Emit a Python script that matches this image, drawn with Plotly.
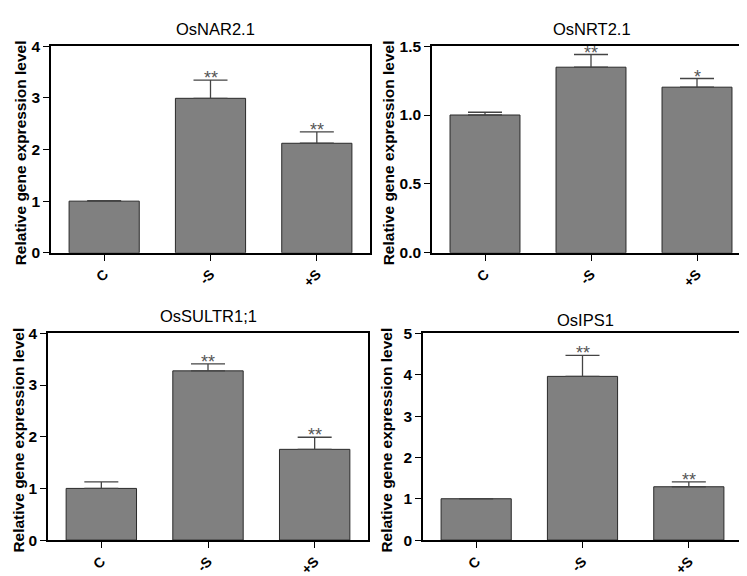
import plotly.graph_objects as go

categories = ["C", "-S", "+S"]
titles = ["OsNAR2.1", "OsNRT2.1", "OsSULTR1;1", "OsIPS1"]
y_title = "Relative gene expression level"
nar_vals = [1.0, 2.99, 2.12]
nar_err = [0.01, 0.35, 0.22]
nar_sig = ["", "**", "**"]
nrt_vals = [1.0, 1.347, 1.202]
nrt_err = [0.02, 0.092, 0.063]
nrt_sig = ["", "**", "*"]
sultr_vals = [1.0, 3.275, 1.756]
sultr_err = [0.125, 0.135, 0.234]
sultr_sig = ["", "**", "**"]
ips_vals = [1.0, 3.96, 1.29]
ips_err = [0.0, 0.51, 0.12]
ips_sig = ["", "**", "**"]
y_max = [4, 1.5, 4, 5]
y_dtick = [1, 0.5, 1, 1]
y_fmt = ["d", ".1f", "d", "d"]

panels = [
    (nar_vals, nar_err, nar_sig),
    (nrt_vals, nrt_err, nrt_sig),
    (sultr_vals, sultr_err, sultr_sig),
    (ips_vals, ips_err, ips_sig),
]

W, H = 747, 576
# pixel boxes: left, right, top, bottom
boxes = [(43, 362, 30, 243), (424, 742, 30, 243), (40, 360, 326, 539), (415, 734, 326, 539)]
title_pos = [(207, 12.5), (584, 12.5), (200, 308), (577, 312)]
ytitle_x = [12, 380, 11, 379]

fig = go.Figure()
annotations = []
layout = {}
for i, ((vals, errs, sigs), box) in enumerate(zip(panels, boxes)):
    n = "" if i == 0 else str(i + 1)
    xa, ya = "x" + n, "y" + n
    fig.add_trace(go.Bar(
        x=categories, y=vals, xaxis=xa, yaxis=ya,
        marker=dict(color="#808080", line=dict(color="#2a2a2a", width=1)),
        width=0.66,
        error_y=dict(type="data", symmetric=False, array=errs,
                     arrayminus=[0] * 3, color="#444444", thickness=1.3, width=17),
        showlegend=False,
    ))
    l, r, t, b = box
    layout["xaxis" + n] = dict(
        domain=[l / W, r / W], anchor=ya, range=[-0.5, 2.5],
        showline=True, linecolor="black", linewidth=1.5, mirror=True,
        ticks="outside", ticklen=6, tickcolor="black", tickangle=-45,
        tickfont=dict(family="Liberation Sans", size=14, color="black", weight="bold"),
        showgrid=False, fixedrange=True,
    )
    layout["yaxis" + n] = dict(
        domain=[1 - b / H, 1 - t / H], anchor=xa, range=[0, y_max[i]],
        dtick=y_dtick[i], tickformat=y_fmt[i],
        showline=True, linecolor="black", linewidth=1.5, mirror=True,
        ticks="outside", ticklen=6, tickcolor="black",
        tickfont=dict(family="Liberation Sans", size=15.5, color="black", weight="bold"),
        showgrid=False, zeroline=False,
    )
    tx, ty = title_pos[i]
    annotations.append(dict(
        text=titles[i], xref="paper", yref="paper",
        x=tx / W, y=1 - ty / H, showarrow=False,
        xanchor="center", yanchor="middle",
        font=dict(family="Liberation Sans", size=16.5, color="black"),
    ))
    annotations.append(dict(
        text=y_title, xref="paper", yref="paper", textangle=-90,
        x=ytitle_x[i] / W, y=1 - ((t + b) / 2 + 4) / H, showarrow=False,
        xanchor="center", yanchor="middle",
        font=dict(family="Liberation Sans", size=15.5, color="black", weight="bold"),
    ))
    for c, v, e, s in zip(categories, vals, errs, sigs):
        if s:
            annotations.append(dict(
                text=s, x=c, y=v + e, xref=xa, yref=ya, showarrow=False,
                xanchor="center", yanchor="bottom", yshift=-10,
                font=dict(family="Liberation Sans", size=18, color="#555555"),
            ))

fig.update_layout(
    width=W, height=H, margin=dict(l=0, r=0, t=0, b=0),
    paper_bgcolor="white", plot_bgcolor="white",
    annotations=annotations, bargap=0.34, **layout,
)
fig.write_html("out.html")
